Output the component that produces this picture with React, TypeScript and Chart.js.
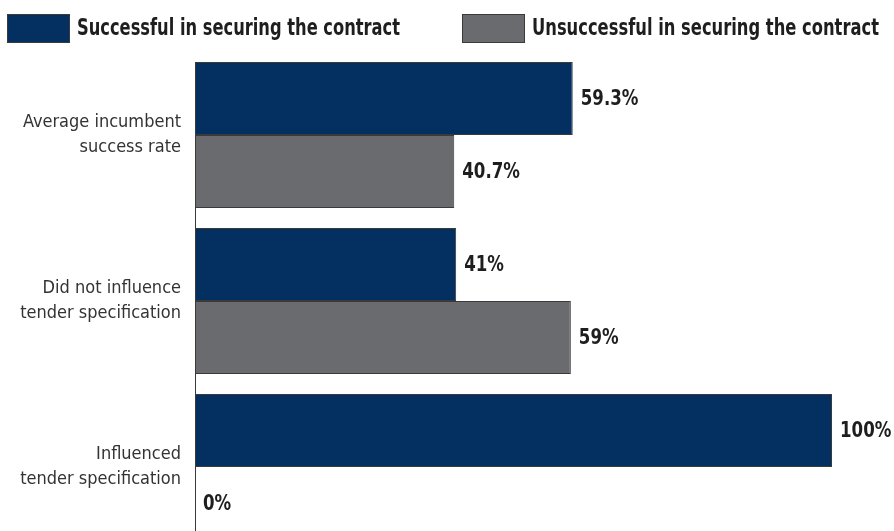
import React, { useEffect, useRef } from 'react';
import { Chart, registerables } from 'chart.js';

Chart.register(...registerables);

const categories: string[][] = [
  ['Average incumbent', 'success rate'],
  ['Did not influence', 'tender specification'],
  ['Influenced', 'tender specification'],
];
const seriesNames = ['Successful in securing the contract', 'Unsuccessful in securing the contract'];
const successfulValues = [59.3, 41, 100];
const unsuccessfulValues = [40.7, 59, 0];
const successfulLabels = ['59.3%', '41%', '100%'];
const unsuccessfulLabels = ['40.7%', '59%', '0%'];

const FONT = "'DejaVu Sans Condensed', 'DejaVu Sans', sans-serif";
const BLUE = '#032f61';
const GREY = '#6a6b6e';
const EDGE = '#3a3a3a';

const valueLabelPlugin = {
  id: 'valueLabels',
  afterDatasetsDraw(chart: any) {
    const ctx = chart.ctx;
    const labelSets = [successfulLabels, unsuccessfulLabels];
    ctx.save();
    ctx.fillStyle = '#1e1e1e';
    ctx.textAlign = 'left';
    ctx.textBaseline = 'middle';
    chart.data.datasets.forEach((_: any, di: number) => {
      const meta = chart.getDatasetMeta(di);
      meta.data.forEach((el: any, i: number) => {
        ctx.save();
        ctx.translate(el.x + 8, el.y + 1);
        ctx.scale(0.88, 1);
        ctx.font = `bold 21px ${FONT}`;
        ctx.fillText(labelSets[di][i], 0, 0);
        ctx.restore();
      });
    });
    // axis line from the first bar top downward
    const first = chart.getDatasetMeta(0).data[0];
    const x0 = chart.scales.x.getPixelForValue(0);
    ctx.strokeStyle = EDGE;
    ctx.lineWidth = 1;
    ctx.beginPath();
    ctx.moveTo(Math.round(x0) + 0.5, first.y - first.height / 2);
    ctx.lineTo(Math.round(x0) + 0.5, chart.height);
    ctx.stroke();
    ctx.restore();
  },
};

const legendPlugin = {
  id: 'customLegend',
  afterDraw(chart: any) {
    const ctx = chart.ctx;
    const starts = [7, 462];
    const textWidth = [323, 347];
    ctx.save();
    chart.data.datasets.forEach((ds: any, i: number) => {
      const x = starts[i];
      ctx.fillStyle = ds.backgroundColor;
      ctx.fillRect(x, 14, 62, 28);
      ctx.strokeStyle = EDGE;
      ctx.lineWidth = 1;
      ctx.strokeRect(x + 0.5, 14.5, 62, 28);
      ctx.font = `bold 23px ${FONT}`;
      const w = ctx.measureText(ds.label).width;
      ctx.save();
      ctx.translate(x + 70, 29);
      ctx.scale(textWidth[i] / w, 1);
      ctx.fillStyle = '#1e1e1e';
      ctx.textBaseline = 'middle';
      ctx.textAlign = 'left';
      ctx.fillText(ds.label, 0, 0);
      ctx.restore();
    });
    ctx.restore();
  },
};

export default function App() {
  const ref = useRef<HTMLCanvasElement | null>(null);
  useEffect(() => {
    document.body.style.margin = '0';
    const canvas = ref.current;
    if (!canvas) return;
    const chart = new Chart(canvas, {
      type: 'bar',
      data: {
        labels: categories as any,
        datasets: [
          {
            label: seriesNames[0],
            data: successfulValues,
            backgroundColor: BLUE,
            borderColor: EDGE,
            borderWidth: 1,
            borderSkipped: false,
          },
          {
            label: seriesNames[1],
            data: unsuccessfulValues,
            backgroundColor: GREY,
            borderColor: EDGE,
            borderWidth: 1,
            borderSkipped: false,
          },
        ],
      },
      options: {
        indexAxis: 'y',
        responsive: false,
        animation: false,
        devicePixelRatio: 1,
        layout: { padding: { top: 52, left: 0, right: 62, bottom: 50 } },
        datasets: { bar: { categoryPercentage: 0.88, barPercentage: 1.0 } },
        plugins: {
          legend: { display: false },
          tooltip: { enabled: false },
        },
        scales: {
          x: { display: false, min: 0, max: 100 },
          y: {
            grid: { display: false, drawTicks: false },
            border: { display: false },
            ticks: {
              color: '#333',
              padding: 14,
              font: { family: FONT, size: 18, lineHeight: 1.4 },
            },
            afterFit: (scale: any) => {
              scale.width = 195;
            },
          },
        },
      },
      plugins: [valueLabelPlugin, legendPlugin],
    });
    return () => chart.destroy();
  }, []);
  return (
    <div style={{ width: 894, height: 531, overflow: 'hidden' }}>
      <canvas ref={ref} width={894} height={600} style={{ display: 'block' }} />
    </div>
  );
}
